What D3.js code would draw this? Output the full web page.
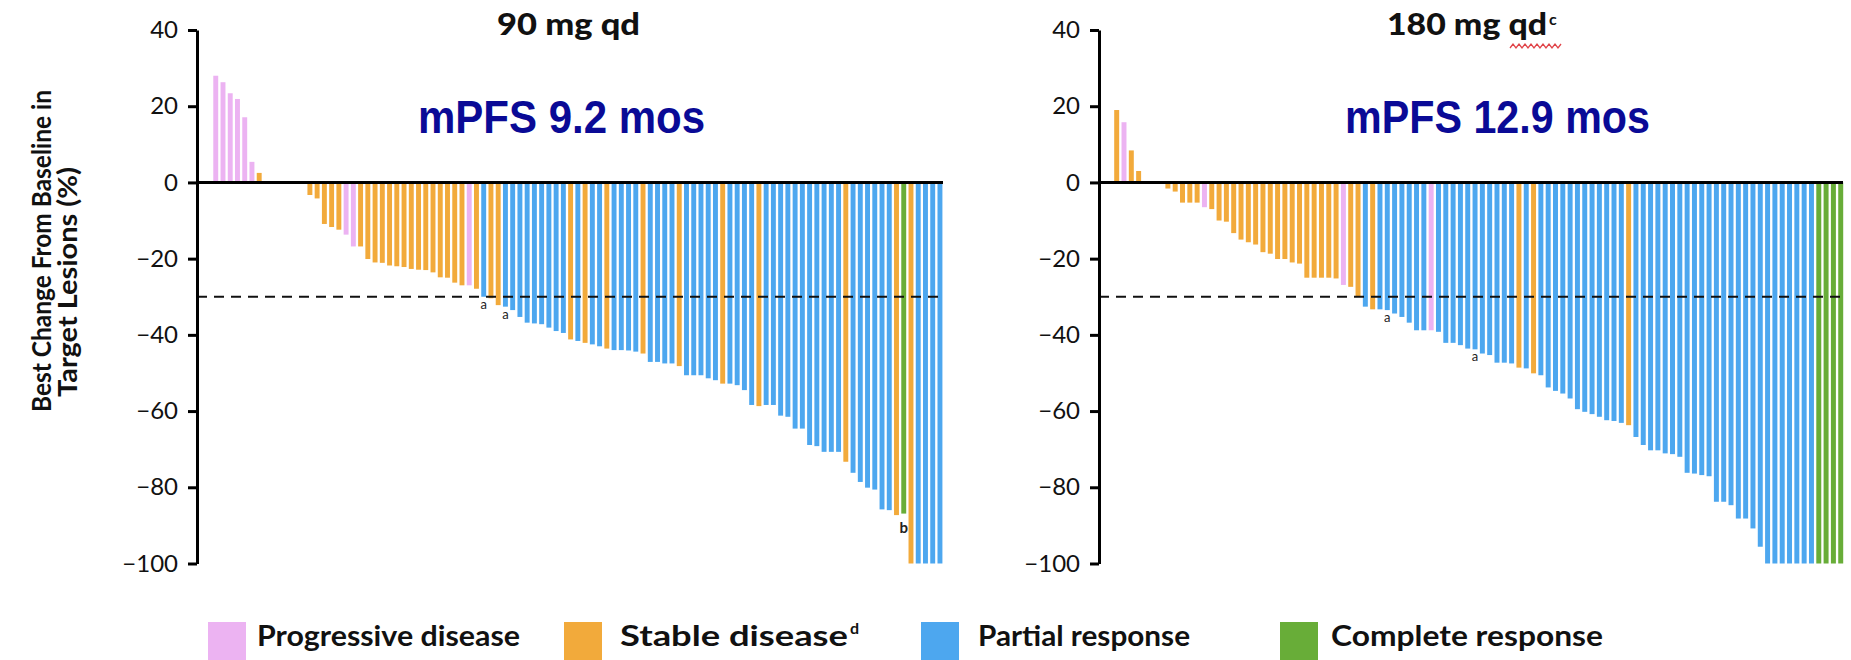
<!DOCTYPE html>
<html>
<head>
<meta charset="utf-8">
<script src="https://cdn.jsdelivr.net/npm/d3@7"></script>
<style>
  body { margin: 0; background: #fff; }
  svg { display: block; }
</style>
</head>
<body>
<div id="chart"></div>
<script>
const WIDTH = 1851;
const HEIGHT = 660;

// y axis ticks (%)
const yTicks = [40, 20, 0, -20, -40, -60, -80, -100];
const threshold = -30;

// response categories
const responseCodes = ["PD", "SD", "PR", "CR"];
const responseNames = ["Progressive disease", "Stable disease", "Partial response", "Complete response"];
const responseSup = ["", "d", "", ""];
const responseColors = ["#ecb3f2", "#f2aa3b", "#4da7ef", "#68ad38"];

// 90 mg qd
const leftTitle = "90 mg qd";
const leftPfs = "mPFS 9.2 mos";
const leftValues = [
  28.0, 26.3, 23.4, 21.9, 17.1, 5.4, 2.5,
  0, 0, 0, 0, 0, 0,
  -3.3, -4.2, -10.9, -11.7, -12.4, -13.7, -16.8, -16.8, -20.1, -21.0,
  -21.1, -21.8, -22.0, -22.2, -22.7, -22.9, -23.0, -23.6, -24.9, -25.0,
  -26.3, -27.0, -27.0, -27.9, -30.0, -30.4, -32.2, -32.6, -33.5, -35.3,
  -36.8, -37.0, -37.2, -38.1, -39.0, -39.5, -41.2, -41.6, -42.1, -42.5,
  -43.0, -43.6, -44.0, -44.0, -44.1, -44.4, -44.9, -47.1, -47.1, -47.5,
  -47.5, -48.2, -50.6, -50.6, -50.6, -51.4, -51.9, -52.8, -52.8, -53.2,
  -54.5, -58.4, -58.7, -58.4, -58.4, -61.2, -61.5, -64.6, -64.6, -68.9,
  -69.2, -70.7, -70.7, -70.7, -73.3, -76.2, -78.6, -80.1, -80.6, -85.8,
  -86.0, -87.3, -86.9, -100, -100, -100, -100, -100
];
const leftResponse = [
  "PD", "PD", "PD", "PD", "PD", "PD", "SD",
  "SD", "SD", "SD", "SD", "SD", "SD",
  "SD", "SD", "SD", "SD", "SD", "PD", "PD", "SD", "SD", "SD",
  "SD", "SD", "SD", "SD", "SD", "SD", "SD", "SD", "SD", "SD",
  "SD", "SD", "PD", "SD", "PR", "SD", "SD", "PR", "PR", "PR",
  "PR", "PR", "PR", "PR", "PR", "PR", "SD", "PR", "SD", "PR",
  "PR", "SD", "PR", "PR", "PR", "PR", "SD", "PR", "PR", "PR",
  "PR", "SD", "PR", "PR", "PR", "PR", "PR", "SD", "PR", "PR",
  "PR", "PR", "SD", "PR", "PR", "PR", "PR", "PR", "PR", "PR",
  "PR", "PR", "PR", "PR", "SD", "PR", "PR", "PR", "PR", "PR",
  "PR", "SD", "CR", "SD", "PR", "PR", "PR", "PR"
];
const leftNotes = [[37, "a"], [40, "a"], [95, "b"]];

// 180 mg qd
const rightTitle = "180 mg qd";
const rightTitleSup = "c";
const rightPfs = "mPFS 12.9 mos";
const rightValues = [
  19.0, 15.8, 8.4, 3.0, 0, 0, 0,
  -1.6, -2.4, -5.3, -5.3, -5.3, -6.5, -7.0, -10.0, -10.3, -13.3,
  -15.0, -15.7, -16.3, -18.3, -18.7, -20.1, -20.1, -21.0, -21.3, -25.0,
  -25.0, -25.0, -25.0, -25.2, -26.9, -27.4, -30.0, -32.6, -33.3, -33.3,
  -33.5, -34.4, -35.3, -36.8, -38.8, -38.8, -38.8, -39.2, -42.1, -42.1,
  -42.7, -43.6, -43.8, -44.9, -45.3, -47.3, -47.3, -47.5, -48.6, -48.8,
  -50.1, -50.6, -53.8, -54.7, -55.4, -56.7, -59.5, -60.2, -60.8, -61.5,
  -62.4, -62.6, -63.1, -63.7, -66.8, -68.9, -70.3, -70.3, -71.1, -71.3,
  -72.0, -76.2, -76.4, -76.8, -77.1, -83.8, -83.8, -84.7, -88.2, -88.2,
  -90.8, -95.6, -100, -100, -100, -100, -100, -100, -100, -100, -100, -100, -100
];
const rightResponse = [
  "SD", "PD", "SD", "SD", "SD", "SD", "SD",
  "SD", "SD", "SD", "SD", "SD", "PD", "SD", "SD", "SD", "SD",
  "SD", "SD", "SD", "SD", "SD", "SD", "SD", "SD", "SD", "SD",
  "SD", "SD", "SD", "SD", "PD", "SD", "SD", "PR", "SD", "PR",
  "PR", "PR", "PR", "PR", "PR", "PR", "PD", "PR", "PR", "PR",
  "PR", "PR", "PR", "PR", "PR", "PR", "PR", "PR", "SD", "PR",
  "SD", "PR", "PR", "PR", "PR", "PR", "PR", "PR", "PR", "PR",
  "PR", "PR", "PR", "SD", "PR", "PR", "PR", "PR", "PR", "PR",
  "PR", "PR", "PR", "PR", "PR", "PR", "PR", "PR", "PR", "PR",
  "PR", "PR", "PR", "PR", "PR", "PR", "PR", "PR", "PR", "CR", "CR", "CR", "CR"
];
const rightNotes = [[37, "a"], [49, "a"]];

const yTitle1 = "Best Change From Baseline in";
const yTitle2 = "Target Lesions (%)";

const color = d3.scaleOrdinal().domain(responseCodes).range(responseColors);

const svg = d3.select("#chart")
  .append("svg")
    .attr("width", WIDTH)
    .attr("height", HEIGHT)
    .style("font-family", "Lato, 'Open Sans', sans-serif");

const y = d3.scaleLinear()
  .domain([-100, 40])
  .range([563.5, 30]);

function drawPanel(values, resp, notes, axisX, lineEnd, bandRange) {
  const g = svg.append("g");
  const idx = values.map((d, i) => i);
  const x = d3.scaleBand()
    .domain(idx)
    .range(bandRange)
    .paddingInner(0.32)
    .paddingOuter(0.15);

  g.selectAll("rect.bar")
    .data(idx)
    .enter()
    .append("rect")
      .attr("class", "bar")
      .attr("x", i => x(i))
      .attr("y", i => y(Math.max(0, values[i])))
      .attr("width", x.bandwidth())
      .attr("height", i => Math.abs(y(values[i]) - y(0)))
      .attr("fill", i => color(resp[i]));

  // -30% threshold
  g.append("line")
    .attr("x1", axisX).attr("x2", lineEnd)
    .attr("y1", y(threshold)).attr("y2", y(threshold))
    .attr("stroke", "#111")
    .attr("stroke-width", 2)
    .attr("stroke-dasharray", "10,7");

  // zero line
  g.append("line")
    .attr("x1", axisX).attr("x2", lineEnd)
    .attr("y1", y(0)).attr("y2", y(0))
    .attr("stroke", "#000")
    .attr("stroke-width", 3);

  const axis = g.append("g")
    .attr("transform", `translate(${axisX},0)`)
    .call(d3.axisLeft(y).tickValues(yTicks).tickSize(9).tickSizeOuter(0).tickPadding(10));
  axis.select(".domain").attr("stroke", "#000").attr("stroke-width", 3);
  axis.selectAll(".tick line").attr("stroke", "#000").attr("stroke-width", 3);
  axis.selectAll(".tick text")
    .attr("fill", "#111")
    .style("font-size", "24px")
    .style("font-family", "Lato, sans-serif");

  g.selectAll("text.note")
    .data(notes)
    .enter()
    .append("text")
      .attr("class", "note")
      .attr("x", d => x(d[0]) + x.bandwidth() / 2)
      .attr("y", d => y(values[d[0]]) + (d[1] === "b" ? 19 : 12))
      .attr("text-anchor", "middle")
      .style("font-size", d => d[1] === "b" ? "15px" : "13px")
      .style("font-weight", d => d[1] === "b" ? "bold" : "normal")
      .attr("fill", "#222")
      .text(d => d[1]);
}

drawPanel(leftValues, leftResponse, leftNotes, 197, 943, [212.2, 943.5]);
drawPanel(rightValues, rightResponse, rightNotes, 1099, 1843, [1113.1, 1844.3]);

// panel titles
svg.append("text")
  .attr("x", 497).attr("y", 35)
  .attr("textLength", 143).attr("lengthAdjust", "spacingAndGlyphs")
  .style("font-size", "30px").style("font-weight", "900")
  .attr("fill", "#111")
  .text(leftTitle);

svg.append("text")
  .attr("x", 1387).attr("y", 35)
  .attr("textLength", 160).attr("lengthAdjust", "spacingAndGlyphs")
  .style("font-size", "30px").style("font-weight", "900")
  .attr("fill", "#111")
  .text(rightTitle);
svg.append("text")
  .attr("x", 1549).attr("y", 25)
  .style("font-size", "16px").style("font-weight", "bold")
  .attr("fill", "#111")
  .text(rightTitleSup);

// spell-check squiggle under "qdc"
const squiggle = d3.range(0, 54, 3).map((d, i) => [1510 + d, i % 2 ? 44 : 48]);
svg.append("path")
  .attr("d", d3.line()(squiggle))
  .attr("fill", "none")
  .attr("stroke", "#e0454a")
  .attr("stroke-width", 1.3);

// median PFS
svg.append("text")
  .attr("x", 418).attr("y", 133)
  .attr("textLength", 287).attr("lengthAdjust", "spacingAndGlyphs")
  .style("font-family", "'Liberation Sans', Arial, sans-serif")
  .style("font-size", "46px").style("font-weight", "bold")
  .attr("fill", "#0a0a96")
  .text(leftPfs);
svg.append("text")
  .attr("x", 1345).attr("y", 133)
  .attr("textLength", 305).attr("lengthAdjust", "spacingAndGlyphs")
  .style("font-family", "'Liberation Sans', Arial, sans-serif")
  .style("font-size", "46px").style("font-weight", "bold")
  .attr("fill", "#0a0a96")
  .text(rightPfs);

// y axis title
[[yTitle1, 51, 251, 322], [yTitle2, 77, 282, 230]].forEach(([t, bx, cy, len]) => {
  svg.append("text")
    .attr("transform", `translate(${bx},${cy}) rotate(-90)`)
    .attr("text-anchor", "middle")
    .attr("textLength", len).attr("lengthAdjust", "spacingAndGlyphs")
    .style("font-size", "26px").style("font-weight", "bold")
    .attr("fill", "#111")
    .text(t);
});

// legend
const legendX = [208, 564, 921, 1280];
const legendTextX = [49, 56, 57, 51];
const legendW = [263, 228, 212, 272];
const legend = svg.selectAll("g.legend")
  .data(responseCodes)
  .enter()
  .append("g")
    .attr("class", "legend")
    .attr("transform", (d, i) => `translate(${legendX[i]},622)`);
legend.append("rect")
  .attr("width", 38).attr("height", 38)
  .attr("fill", (d, i) => responseColors[i]);
legend.append("text")
  .attr("x", (d, i) => legendTextX[i]).attr("y", 24)
  .attr("textLength", (d, i) => legendW[i]).attr("lengthAdjust", "spacingAndGlyphs")
  .style("font-size", "28px").style("font-weight", "bold")
  .attr("fill", "#111")
  .text((d, i) => responseNames[i]);
legend.filter((d, i) => responseSup[i])
  .append("text")
    .attr("x", legendTextX[1] + legendW[1] + 2)
    .attr("y", 12)
    .style("font-size", "16px").style("font-weight", "bold")
    .attr("fill", "#111")
    .text(responseSup[1]);
</script>
</body>
</html>
